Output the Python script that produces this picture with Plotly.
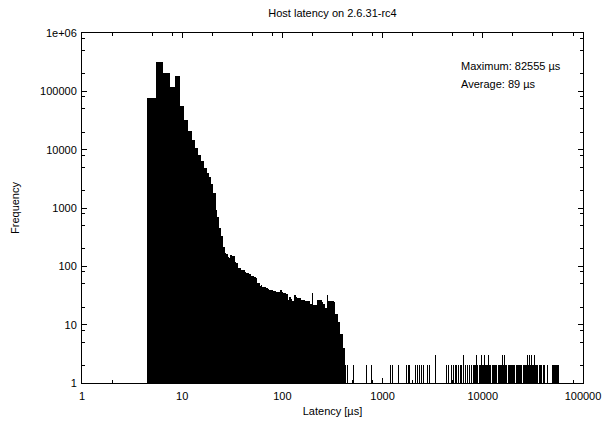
import plotly.graph_objects as go

# ---------------- data ----------------
# Dense part of the histogram: one bin per microsecond, 5 .. 429 us
latency_dense = list(range(5, 430))
freq_dense = [
    76000, 320000, 210000, 120000, 180000,
    56000, 32000, 20500, 14700, 10600, 8100, 6300, 4900, 4000, 3400,
    2600, 1800, 930, 710, 450, 325, 218, 167, 160, 143,
    138, 157, 152, 150, 120, 116, 93, 90, 92, 87,
    85, 87, 80, 78, 76, 77, 74, 72, 74, 68,
    66, 68, 65, 64, 65, 62, 51, 49, 51, 48,
    46, 45, 48, 44, 45, 43, 45, 42, 44, 41,
    42, 40, 41, 39, 40, 38, 39, 37, 38, 39,
    37, 38, 36, 37, 38, 36, 35, 37, 36, 37,
    35, 36, 34, 37, 35, 36, 40, 37, 39, 36,
    35, 34, 35, 33, 35, 32, 34, 33, 35, 32,
    33, 34, 27, 26, 27, 25, 27, 26, 30, 28,
    29, 30, 27, 28, 25, 24, 25, 23, 25, 24,
    25, 23, 24, 25, 32, 28, 29, 27, 30, 28,
    29, 27, 28, 29, 27, 26, 29, 28, 27, 29,
    28, 27, 29, 26, 27, 25, 27, 26, 25, 27,
    26, 27, 25, 26, 27, 25, 24, 26, 25, 24,
    25, 24, 25, 23, 25, 24, 25, 23, 24, 25,
    24, 25, 23, 24, 25, 22, 24, 23, 24, 22,
    23, 22, 21, 23, 22, 23, 21, 22, 23, 35,
    22, 23, 21, 22, 20, 21, 22, 21, 22, 20,
    22, 21, 20, 22, 21, 22, 20, 21, 22, 21,
    20, 22, 21, 20, 22, 21, 22, 27, 24, 26,
    25, 27, 24, 26, 25, 27, 26, 24, 25, 26,
    27, 25, 24, 26, 25, 23, 27, 26, 24, 23,
    22, 23, 21, 22, 23, 21, 22, 23, 22, 21,
    22, 23, 21, 22, 21, 20, 19, 18, 19, 17,
    19, 18, 19, 17, 18, 19, 18, 17, 19, 18,
    19, 18, 17, 19, 32, 18, 19, 17, 18, 19,
    25, 23, 24, 25, 22, 24, 25, 23, 24, 25,
    23, 24, 25, 22, 24, 25, 23, 24, 25, 22,
    24, 23, 25, 22, 24, 25, 23, 24, 25, 25,
    23, 24, 25, 22, 24, 23, 25, 24, 22, 23,
    15, 14, 15, 13, 15, 14, 12, 15, 14, 13,
    15, 14, 13, 15, 12, 14, 15, 13, 14, 12,
    14, 13, 15, 12, 13, 14, 11, 10, 11, 10,
    11, 9, 10, 11, 10, 9, 10, 11, 9, 8,
    7, 6, 7, 5, 7, 6, 7, 5, 6, 7,
    6, 7, 5, 6, 7, 5, 6, 7, 5, 6,
    7, 6, 7, 6, 5, 6, 7, 5, 6, 5,
    4, 3, 4, 2, 3, 4, 3, 4, 3, 2,
    4, 2, 3, 4, 2, 3, 2, 4, 3, 2,
    2, 1, 2, 1, 2, 1, 1, 2, 1, 1,
]

# Sparse outliers (latency in us, count)
latency_sparse = [
    447, 508, 684, 767, 1208, 1265, 1439, 1746, 1799, 1854,
    2113, 2213, 2317, 2466, 2541, 2818, 2951, 3404, 4365, 4519,
    4898, 5070, 5309, 5495, 5754, 5957, 6166, 6427, 6683, 6998,
    7328, 7674, 8035, 8222, 8414, 8610, 8810, 9226, 9441, 9661,
    9886, 10116, 10352, 10593, 10839, 11092, 11350, 11614, 11885, 12445,
    12735, 13032, 13335, 13646, 14289, 14622, 14962, 15311, 15668, 16032,
    16406, 16788, 17179, 17989, 18408, 18836, 19275, 19724, 20184, 20654,
    21627, 22131, 22646, 23174, 23714, 24266, 25410, 26001, 26607, 27227,
    27861, 28510, 29174, 29854, 30549, 31261, 31989, 32734, 33497, 34277,
    35075, 36728, 37584, 38459, 40550, 41700, 43850, 49200, 50400, 51500,
    52700, 54000, 55200, 56500, 57400,
]
freq_sparse = [
    2, 2, 2, 2, 2, 2, 2, 2, 2, 2,
    2, 2, 2, 2, 2, 2, 2, 3, 2, 2,
    2, 2, 2, 2, 2, 2, 2, 3, 2, 2,
    2, 2, 2, 2, 2, 3, 2, 2, 2, 3,
    2, 2, 3, 2, 2, 2, 3, 2, 2, 2,
    2, 2, 2, 2, 2, 2, 2, 2, 3, 2,
    3, 2, 2, 2, 2, 2, 2, 2, 2, 2,
    2, 2, 2, 2, 2, 2, 2, 2, 2, 2,
    3, 2, 3, 2, 3, 2, 2, 3, 2, 2,
    2, 2, 2, 2, 2, 2, 2, 2, 2, 2,
    2, 2, 2, 2, 2,
]

x_tick_vals = [1, 10, 100, 1000, 10000, 100000]
x_tick_text = ["1", "10", "100", "1000", "10000", "100000"]
y_tick_vals = [1, 10, 100, 1000, 10000, 100000, 1000000]
y_tick_text = ["1", "10", "100", "1000", "10000", "100000", "1e+06"]
minor_mult = [2, 5, 8]

title_text = "Host latency on 2.6.31-rc4"
x_title = "Latency [µs]"
y_title = "Frequency"
max_text = "Maximum: 82555 µs"
avg_text = "Average: 89 µs"

# ---------------- figure ----------------
BIN_WIDTH = 1
FONT = "Liberation Sans, Arial, Helvetica, sans-serif"

latency = latency_dense + latency_sparse
freq = freq_dense + freq_sparse

fig = go.Figure()
fig.add_trace(go.Bar(
    x=latency, y=freq,
    width=[BIN_WIDTH] * len(latency),
    marker=dict(color="black", line=dict(width=0)),
    hoverinfo="x+y",
))

x_minor = [m * 10 ** d for d in range(0, 5) for m in minor_mult]
y_minor = [m * 10 ** d for d in range(0, 6) for m in minor_mult]

axis_common = dict(
    type="log",
    automargin=False,
    ticks="inside", ticklen=5, tickwidth=1, tickcolor="black",
    showline=True, linecolor="black", linewidth=1, mirror="allticks",
    showgrid=False, zeroline=False,
    tickfont=dict(family=FONT, size=11, color="black"),
)

fig.update_xaxes(
    **axis_common,
    range=[0, 5],
    tickvals=x_tick_vals, ticktext=x_tick_text,
    ticklabelstandoff=3,
    minor=dict(tickvals=x_minor, ticks="inside", ticklen=3, tickcolor="black", showgrid=False),
    title=dict(text=x_title, font=dict(family=FONT, size=11, color="black"), standoff=6),
)
fig.update_yaxes(
    **axis_common,
    range=[0, 6],
    tickvals=y_tick_vals, ticktext=y_tick_text,
    ticklabelstandoff=2,
    minor=dict(tickvals=y_minor, ticks="inside", ticklen=3, tickcolor="black", showgrid=False),
    title=dict(text=y_title, font=dict(family=FONT, size=11, color="black"), standoff=18),
)

fig.add_annotation(text=max_text, xref="paper", yref="paper", x=0.753, y=0.9065,
                   xanchor="left", yanchor="middle", showarrow=False,
                   font=dict(family=FONT, size=11, color="black"))
fig.add_annotation(text=avg_text, xref="paper", yref="paper", x=0.753, y=0.855,
                   xanchor="left", yanchor="middle", showarrow=False,
                   font=dict(family=FONT, size=11, color="black"))

fig.update_layout(
    template="none",
    width=607, height=424,
    margin=dict(l=82, r=24, t=33, b=41, autoexpand=False),
    paper_bgcolor="white", plot_bgcolor="white",
    bargap=0, showlegend=False,
    title=dict(text=title_text, x=0.5, xref="paper", xanchor="center",
               y=1 - 13 / 424, yref="container", yanchor="middle",
               automargin=False,
               font=dict(family=FONT, size=11, color="black")),
    font=dict(family=FONT, size=11, color="black"),
)

fig.write_html(
    "out.html",
    config={"displayModeBar": False},
    post_script="document.body.style.margin='0px';document.body.style.overflow='hidden';",
)
